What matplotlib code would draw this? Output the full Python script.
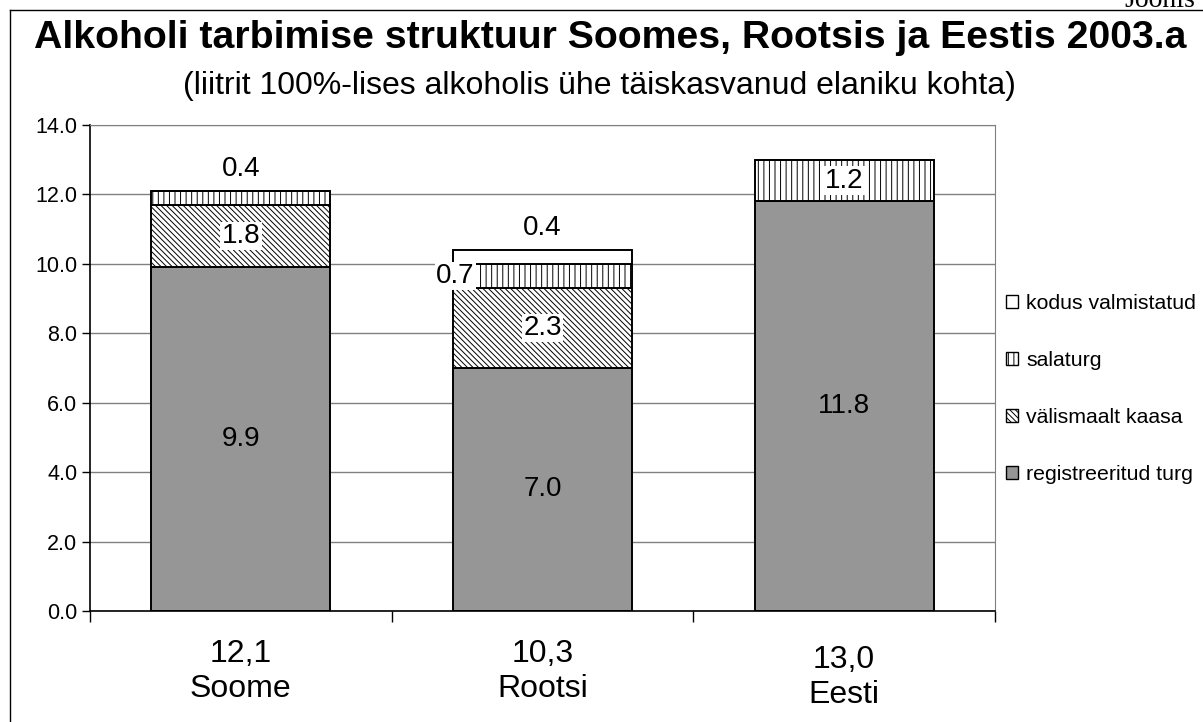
import matplotlib
matplotlib.use("Agg")
import matplotlib.pyplot as plt
from matplotlib.patches import Patch
from matplotlib.lines import Line2D
import numpy as np

categories = ['Soome', 'Rootsi', 'Eesti']
totals = ['12,1', '10,3', '13,0']
registreeritud = [9.9, 7.0, 11.8]
valismaalt = [1.8, 2.3, 0.0]
salaturg = [0.4, 0.7, 1.2]
kodus = [0.0, 0.4, 0.0]
series_names = ['registreeritud turg', 'välismaalt kaasa', 'salaturg', 'kodus valmistatud']
yticks = [0.0, 2.0, 4.0, 6.0, 8.0, 10.0, 12.0, 14.0]

plt.rcParams['font.family'] = ['Liberation Sans', 'DejaVu Sans']
plt.rcParams['hatch.linewidth'] = 0.7

W, H = 1203, 722
fig = plt.figure(figsize=(W / 100, H / 100), dpi=100)
ax = fig.add_axes([90 / W, 1 - 611 / H, (995 - 90) / W, (611 - 125) / H])

x = np.arange(len(categories))
bw = 0.593
series = [registreeritud, valismaalt, salaturg, kodus]
styles = [dict(color='#969696', hatch=None),
          dict(color='white', hatch='\\\\\\\\\\\\'),
          dict(color='white', hatch='|||'),
          dict(color='white', hatch=None)]
bottom = np.zeros(len(categories))
bars = []
for vals, st in zip(series, styles):
    v = np.array(vals)
    ax.bar(x, v, bw, bottom=bottom, color=st['color'], edgecolor='black',
           linewidth=1.4, hatch=st['hatch'], zorder=2)
    bars.append((v.copy(), bottom.copy()))
    bottom = bottom + v

# data labels
for si, (v, bot) in enumerate(bars):
    for ci in range(len(categories)):
        val = v[ci]
        if val <= 0:
            continue
        cx = x[ci]
        cy = bot[ci] + val / 2
        ha = 'center'
        bbox = None
        if si > 0:
            bbox = dict(facecolor='white', edgecolor='none', pad=1.0)
        if val < 0.5:
            cy = bot[ci] + val + 0.62
            bbox = None
        if si == 2 and ci == 1:
            cx = x[ci] - bw / 2 + 0.072
            ha = 'right'
        ax.text(cx, cy, f'{val:.1f}', ha=ha, va='center', fontsize=20,
                bbox=bbox, zorder=5)

ax.set_xlim(-0.5, 2.5)
ax.set_ylim(0, 14)
ax.set_yticks(yticks)
ax.set_yticklabels([f'{t:.1f}' for t in yticks], fontsize=15.5)
ax.yaxis.grid(True, color='#808080', linewidth=1.0, zorder=0)
ax.set_axisbelow(True)

ax.set_xticks([-0.5, 0.5, 1.5, 2.5])
ax.set_xticklabels([])
ax.tick_params(axis='x', direction='out', length=8, width=1, color='black')
ax.tick_params(axis='y', direction='out', length=6, width=1, color='black', pad=3)
for ci, (t, c) in enumerate(zip(totals, categories)):
    dy = -0.058 if ci < 2 else -0.069
    ax.text(x[ci], dy, f'{t}\n{c}', transform=ax.get_xaxis_transform(),
            ha='center', va='top', fontsize=23, linespacing=1.22)

for s in ['top', 'right']:
    ax.spines[s].set_color('#808080')
ax.spines['left'].set_color('black')
ax.spines['bottom'].set_color('black')
ax.spines['left'].set_linewidth(1.2)
ax.spines['bottom'].set_linewidth(1.2)

# legend
handles = []
for name, st in list(zip(series_names, styles))[::-1]:
    handles.append(Patch(facecolor=st['color'], edgecolor='black', hatch=st['hatch'],
                         linewidth=1.0, label=name))
fig.legend(handles=handles, loc='center left', bbox_to_anchor=(1006 / W, 1 - 389 / H),
           frameon=False, fontsize=15.3, handlelength=0.55, handleheight=0.55,
           handletextpad=0.4, labelspacing=1.8, borderaxespad=0, borderpad=0)

fig.text(610 / W, 1 - 48 / H, 'Alkoholi tarbimise struktuur Soomes, Rootsis ja Eestis 2003.a',
         ha='center', va='baseline', fontsize=28.3, fontweight='bold')
fig.text(599 / W, 1 - 94 / H, '(liitrit 100%-lises alkoholis ühe täiskasvanud elaniku kohta)',
         ha='center', va='baseline', fontsize=23)
fig.text(1195 / W, 1 - 7 / H, 'Joonis', ha='right', va='baseline', fontsize=20,
         family='Liberation Serif')

fig.add_artist(Line2D([10 / W, 10 / W], [0, 1 - 10 / H], transform=fig.transFigure,
                      color='black', linewidth=1))
fig.add_artist(Line2D([10 / W, 1], [1 - 10 / H, 1 - 10 / H], transform=fig.transFigure,
                      color='black', linewidth=1))

fig.savefig('out.png', dpi=100)
